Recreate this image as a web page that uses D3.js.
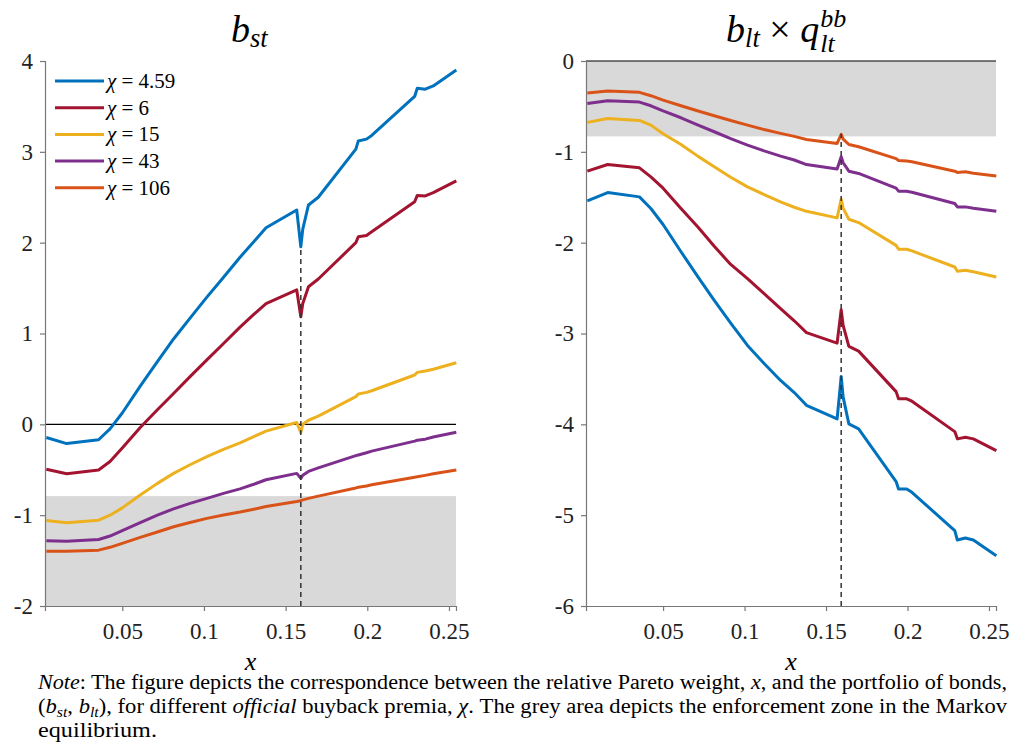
<!DOCTYPE html>
<html>
<head>
<meta charset="utf-8">
<script src="https://cdn.jsdelivr.net/npm/d3@7"></script>
</head>
<body style="margin:0">
<svg id="fig" width="1013" height="745"></svg>
<script>
// relative Pareto weight grid (shared by every curve)
var xs = [0.0035, 0.016, 0.0355, 0.0425, 0.050, 0.061, 0.0715, 0.0814, 0.0915, 0.1018,
    0.112, 0.1221, 0.1305, 0.138, 0.1568, 0.1593, 0.1605, 0.164, 0.170, 0.193,
    0.1945, 0.1995, 0.2027, 0.229, 0.2306, 0.2355, 0.2404, 0.2545];

var chiLabels = ['4.59', '6', '15', '43', '106'];
var colors = ['#0072BD', '#A2142F', '#EDB120', '#7E2F8E', '#D95319'];

// left panel: b_st
var bstChi459 = [-0.145, -0.212, -0.170, -0.050, 0.125, 0.42, 0.69, 0.94, 1.17, 1.40,
    1.62, 1.84, 2.01, 2.165, 2.36, 1.955, 2.15, 2.415, 2.50, 3.03,
    3.12, 3.14, 3.18, 3.61, 3.70, 3.69, 3.725, 3.90];
var bstChi6 = [-0.495, -0.545, -0.503, -0.41, -0.26, -0.035, 0.16, 0.34, 0.525, 0.71,
    0.89, 1.07, 1.21, 1.33, 1.48, 1.185, 1.33, 1.515, 1.60, 2.00,
    2.065, 2.08, 2.12, 2.45, 2.52, 2.515, 2.55, 2.68];
var bstChi15 = [-1.06, -1.083, -1.055, -1.00, -0.92, -0.778, -0.65, -0.54, -0.445, -0.355,
    -0.275, -0.205, -0.135, -0.075, 0.02, -0.092, 0.0, 0.045, 0.09, 0.305,
    0.334, 0.352, 0.37, 0.543, 0.572, 0.587, 0.607, 0.678];
var bstChi43 = [-1.281, -1.288, -1.268, -1.23, -1.17, -1.083, -1.0, -0.93, -0.87, -0.815,
    -0.76, -0.71, -0.66, -0.61, -0.54, -0.595, -0.56, -0.518, -0.48, -0.345,
    -0.338, -0.313, -0.295, -0.185, -0.175, -0.163, -0.14, -0.088];
var bstChi106 = [-1.398, -1.398, -1.385, -1.354, -1.31, -1.245, -1.185, -1.127, -1.08, -1.035,
    -0.998, -0.966, -0.935, -0.905, -0.85, -0.841, -0.832, -0.815, -0.79, -0.70,
    -0.693, -0.678, -0.665, -0.582, -0.577, -0.562, -0.545, -0.503];

// right panel: b_lt x q_lt^bb
var bltChi459 = [-1.54, -1.448, -1.496, -1.624, -1.80, -2.10, -2.38, -2.635, -2.885, -3.131,
    -3.33, -3.517, -3.65, -3.79, -3.94, -3.473, -3.70, -3.995, -4.05, -4.63,
    -4.711, -4.711, -4.749, -5.17, -5.274, -5.252, -5.274, -5.447];
var bltChi6 = [-1.213, -1.139, -1.176, -1.275, -1.40, -1.624, -1.83, -2.04, -2.24, -2.396,
    -2.56, -2.727, -2.86, -2.99, -3.106, -2.738, -2.911, -3.142, -3.194, -3.64,
    -3.719, -3.719, -3.745, -4.08, -4.16, -4.142, -4.16, -4.289];
var bltChi15 = [-0.676, -0.632, -0.654, -0.706, -0.80, -0.919, -1.05, -1.165, -1.28, -1.386,
    -1.47, -1.551, -1.61, -1.655, -1.727, -1.521, -1.62, -1.742, -1.779, -2.03,
    -2.073, -2.073, -2.09, -2.268, -2.315, -2.304, -2.32, -2.378];
var bltChi43 = [-0.467, -0.437, -0.452, -0.493, -0.55, -0.625, -0.705, -0.779, -0.855, -0.926,
    -0.99, -1.047, -1.09, -1.14, -1.19, -1.055, -1.12, -1.213, -1.238, -1.40,
    -1.433, -1.433, -1.445, -1.569, -1.606, -1.606, -1.62, -1.654];
var bltChi106 = [-0.353, -0.331, -0.345, -0.382, -0.43, -0.493, -0.55, -0.603, -0.655, -0.706,
    -0.755, -0.797, -0.83, -0.865, -0.908, -0.808, -0.86, -0.919, -0.944, -1.075,
    -1.095, -1.10, -1.11, -1.213, -1.227, -1.22, -1.235, -1.265];

var xTicks = [0.05, 0.1, 0.15, 0.2, 0.25];
var bstTicks = [4, 3, 2, 1, 0, -1, -2];
var bltTicks = [0, -1, -2, -3, -4, -5, -6];
var xDomain = [0.0027, 0.2543];
var xCut = 0.1593;
var bstZone = [-2, -0.79];
var bltZone = [-0.83, 0];

var SERIF = 'Liberation Serif';
var svg = d3.select('#fig');
var plotTop = 61, plotBottom = 606;

var fmt = function(d) { return String(d).replace('−', '-'); };

var drawPanel = function(p) {
    var x = d3.scaleLinear().domain(xDomain).range([p.left, p.right]);
    var y = d3.scaleLinear().domain(p.yDomain).range([plotBottom, plotTop]);
    var g = svg.append('g');

    // enforcement zone
    g.append('rect')
        .attr('x', x(xDomain[0]))
        .attr('width', x(xDomain[1]) - x(xDomain[0]))
        .attr('y', y(p.zone[1]))
        .attr('height', y(p.zone[0]) - y(p.zone[1]))
        .attr('fill', '#d9d9d9');

    g.append('line')
        .attr('x1', x(xDomain[0])).attr('x2', x(xDomain[1]))
        .attr('y1', y(0)).attr('y2', y(0))
        .attr('stroke', '#000')
        .attr('stroke-width', 1.2);

    var line = d3.line()
        .x(function(d) { return x(d[0]); })
        .y(function(d) { return y(d[1]); });

    p.series.forEach(function(s, i) {
        g.append('path')
            .datum(d3.zip(xs, s))
            .attr('fill', 'none')
            .attr('stroke', colors[i])
            .attr('stroke-width', 3)
            .attr('stroke-linejoin', 'round')
            .attr('d', line);
    });

    g.append('line')
        .attr('x1', x(xCut)).attr('x2', x(xCut))
        .attr('y1', y(p.yDomain[0])).attr('y2', y(p.dashTop))
        .attr('stroke', '#333')
        .attr('stroke-width', 1.5)
        .attr('stroke-dasharray', '5,4');

    var ax = g.append('g')
        .attr('transform', 'translate(0,' + plotBottom + ')')
        .call(d3.axisBottom(x).tickValues(xTicks).tickSize(5).tickPadding(12).tickFormat(fmt));
    var ay = g.append('g')
        .attr('transform', 'translate(' + p.left + ',0)')
        .call(d3.axisLeft(y).tickValues(p.ticks).tickSize(5).tickPadding(7).tickFormat(fmt));

    [ax, ay].forEach(function(a) {
        a.attr('font-family', SERIF).attr('font-size', 23);
        a.select('.domain').attr('stroke', '#777').attr('stroke-width', 1.2);
        a.selectAll('.tick line').attr('stroke', '#777').attr('stroke-width', 1.2);
        a.selectAll('.tick text')
            .attr('fill', '#222')
            .attr('font-family', SERIF)
            .attr('font-size', 23);
    });

    g.append('text')
        .attr('x', (p.left + p.right) / 2)
        .attr('y', 670)
        .attr('text-anchor', 'middle')
        .attr('font-family', SERIF)
        .attr('font-size', 26)
        .attr('font-style', 'italic')
        .text('x');
};

drawPanel({
    left: 45, right: 456, yDomain: [-2, 4], ticks: bstTicks, zone: bstZone, dashTop: 1.955,
    series: [bstChi459, bstChi6, bstChi15, bstChi43, bstChi106]
});
drawPanel({
    left: 586, right: 996, yDomain: [-6, 0], ticks: bltTicks, zone: bltZone, dashTop: -0.8,
    series: [bltChi459, bltChi6, bltChi15, bltChi43, bltChi106]
});

// rich text helper: runs of [text, kind] where kind is '', 'i', 'sub'
var addRuns = function(t, runs, size, drop) {
    var shift = 0;
    runs.forEach(function(r) {
        var s = t.append('tspan').text(r[0]);
        if (r[1] === 'i') s.attr('font-style', 'italic');
        if (r[1] === 'sub') {
            s.attr('font-style', 'italic')
                .attr('font-size', size * 0.7)
                .attr('dy', size * drop);
            shift = size * drop;
        } else if (shift) {
            s.attr('dy', -shift);
            shift = 0;
        }
    });
};

var makeText = function(x, y, size) {
    return svg.append('text')
        .attr('x', x).attr('y', y)
        .attr('font-family', SERIF)
        .attr('font-size', size)
        .attr('fill', '#000');
};

// legend
chiLabels.forEach(function(lbl, i) {
    var ly = 81 + i * 26.7;
    svg.append('line')
        .attr('x1', 55).attr('x2', 104)
        .attr('y1', ly).attr('y2', ly)
        .attr('stroke', colors[i])
        .attr('stroke-width', 3);
    var t = makeText(107, ly + 7, 21);
    t.append('tspan').attr('font-style', 'italic').text('χ');
    t.append('tspan').text(' = ' + lbl);
});

// titles
var t1 = makeText(231, 42, 38);
addRuns(t1, [['b', 'i'], ['st', 'sub']], 38, 0.14);

var t2 = makeText(726, 42, 38);
addRuns(t2, [['b', 'i'], ['lt', 'sub'], [' × ', ''], ['q', 'i']], 38, 0.14);
var qEnd = 726 + t2.node().getComputedTextLength() + 1;
makeText(qEnd, 27, 26).attr('font-style', 'italic').text('bb');
makeText(qEnd, 52, 26).attr('font-style', 'italic').text('lt');

// note below the figure, each line stretched to the width it has in the reference
var noteLines = [
    [['Note', 'i'], [': The figure depicts the correspondence between the relative Pareto weight, ', ''], ['x', 'i'], [', and the portfolio of bonds,', '']],
    [['(', ''], ['b', 'i'], ['st', 'sub'], [', ', ''], ['b', 'i'], ['lt', 'sub'], ['), for different ', ''], ['official', 'i'], [' buyback premia, ', ''], ['χ', 'i'], ['. The grey area depicts the enforcement zone in the Markov', '']],
    [['equilibrium.', '']]
];
var noteWidths = [969, 969, 119];
noteLines.forEach(function(runs, i) {
    var t = makeText(38, 689 + i * 24, 20);
    addRuns(t, runs, 20, 0.2);
    t.attr('textLength', noteWidths[i]).attr('lengthAdjust', 'spacingAndGlyphs');
});
</script>
</body>
</html>
